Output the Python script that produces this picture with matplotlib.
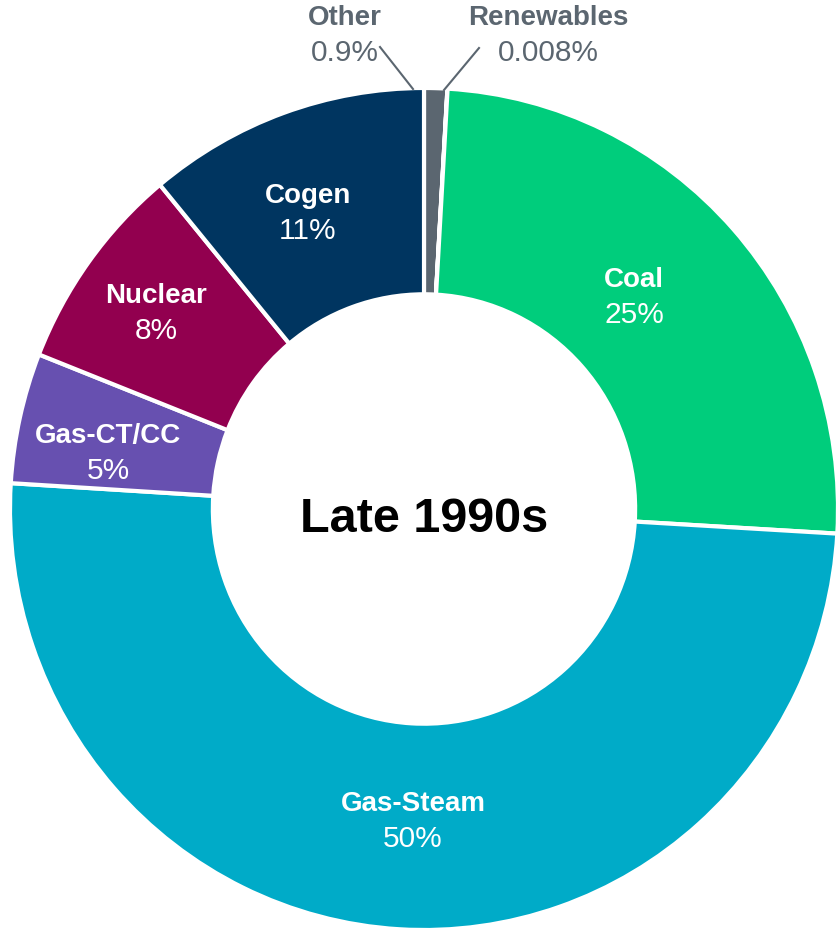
import matplotlib.pyplot as plt

plt.rcParams['font.family'] = ['Liberation Sans', 'DejaVu Sans']

labels = ['Other', 'Renewables', 'Coal', 'Gas-Steam', 'Gas-CT/CC', 'Nuclear', 'Cogen']
values = [0.9, 0.008, 25, 50, 5, 8, 11]
pct_text = ['0.9%', '0.008%', '25%', '50%', '5%', '8%', '11%']
colors = ['#5b6670', '#5b6670', '#00cd7c', '#00abc8', '#6750b0', '#92004f', '#003560']

W, H = 839, 934
# donut in pixels: centre and radii (slightly wider than tall in the source)
cx, cy, rx, ry = 424, 509, 414, 421


def px(x, y):
    return (x - cx) / rx, (cy - y) / ry


# label positions in pixel coords (x, y from top)
label_pos = [(345, 18), (548, 18), (634, 280), (413, 804), (108, 436), (156, 296), (308, 196)]
text_col = ['#5b6670', '#5b6670', 'white', 'white', 'white', 'white', 'white']

fig = plt.figure(figsize=(W / 100, H / 100), dpi=100)
ax = fig.add_axes([0, 0, 1, 1])

ax.pie(values, colors=colors, startangle=90, counterclock=False,
       wedgeprops=dict(width=0.49, edgecolor='white', linewidth=3))
ax.set_aspect('auto')

for name, pct, (x, y), c in zip(labels, pct_text, label_pos, text_col):
    ax.text(*px(x, y), name, ha='center', va='center', fontsize=20,
            fontweight='bold', color=c)
    ax.text(*px(x, y + 35), pct, ha='center', va='center', fontsize=21.5, color=c)

# leader lines for the small slices
for (x0, y0), (x1, y1) in [((380, 47), (413, 89)), ((479, 48), (444, 90))]:
    a, b = px(x0, y0), px(x1, y1)
    ax.plot([a[0], b[0]], [a[1], b[1]], color='#5b6670', lw=1.5)

ax.text(*px(cx, 519), 'Late 1990s', ha='center', va='center', fontsize=35,
        fontweight='bold', color='black')

x0, y0 = px(0, H)
x1, y1 = px(W, 0)
ax.set_xlim(x0, x1)
ax.set_ylim(y0, y1)
ax.axis('off')

fig.savefig('out.png', dpi=100)
